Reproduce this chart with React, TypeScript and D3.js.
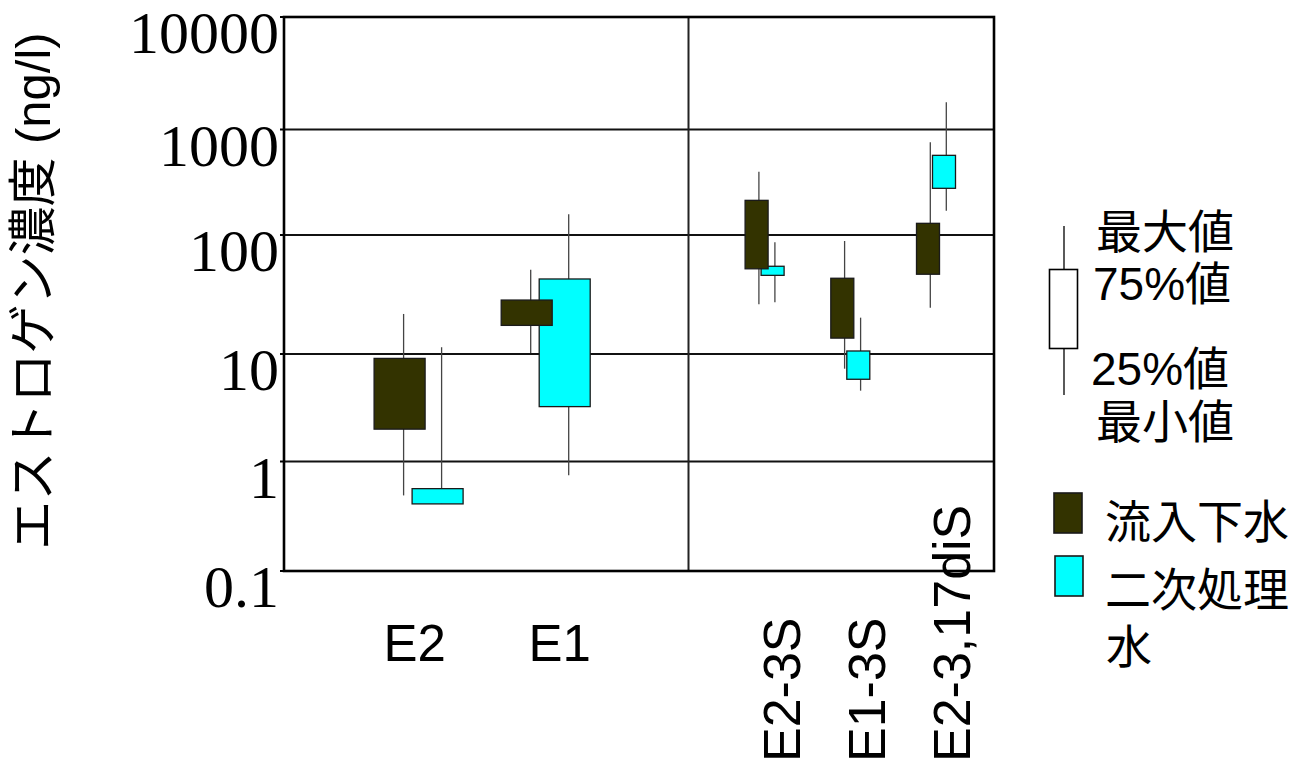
import React from "react";
import * as d3 from "d3";

// ---- data ----
const categories = ["E2", "E1", "E2-3S", "E1-3S", "E2-3,17diS"];
const leftPanel = ["E2", "E1"];
const rightPanel = ["E2-3S", "E1-3S", "E2-3,17diS"];

const influentMin = [0.49, 10.2, 26.2, 7.3, 24.5];
const influentQ1 = [2.0, 17.4, 52, 13.6, 46.8];
const influentQ3 = [9.1, 28.4, 213, 43.3, 129];
const influentMax = [21.7, 51, 398, 89, 757];

const secondaryMin = [0.41, 0.75, 27.2, 4.56, 170];
const secondaryQ1 = [0.41, 3.24, 45.8, 5.82, 277];
const secondaryQ3 = [0.565, 42.7, 54.6, 10.6, 569];
const secondaryMax = [11.4, 157, 86.9, 20.2, 1745];

const yTicks = [0.1, 1, 10, 100, 1000, 10000];
const yTickLabels = ["0.1", "1", "10", "100", "1000", "10000"];
const yTitle = "エストロゲン濃度 (ng/l)";
const seriesNames = ["流入下水", "二次処理水"];
const legendStats = ["最大値", "75%値", "25%値", "最小値"];

// ---- layout ----
const W = 1296;
const H = 762;
const plot = { left: 284, right: 994, top: 17, bottom: 571 };
const dividerX = 688.5;
const INF_COLOR = "#333300";
const SEC_COLOR = "#00ffff";
const SANS = "'Liberation Sans', Arial, 'Noto Sans CJK JP', sans-serif";
const SERIF = "'Liberation Serif', 'Times New Roman', serif";

export default function App() {
  const y = d3
    .scaleLog()
    .domain(yTicks)
    .range([plot.bottom, 461.5, 354, 235, 129.5, plot.top]);

  const xLeft = d3.scalePoint<string>().domain(leftPanel).range([418.6, 545.7]);
  const xRight = d3.scalePoint<string>().domain(rightPanel).range([764.6, 936]);
  const labelLeft = d3.scalePoint<string>().domain(leftPanel).range([414.6, 559.6]);
  const labelRight = d3.scalePoint<string>().domain(rightPanel).range([800, 970]);

  const geom = (c: string) => {
    const isLeft = leftPanel.includes(c);
    const cx = isLeft ? (xLeft(c) as number) : (xRight(c) as number);
    const w = isLeft ? 51 : 23;
    const off = isLeft ? 19 : 8;
    const wOff = isLeft ? 4 : 2.3;
    return { cx, w, off, wOff };
  };

  const series = [
    { key: "sec", min: secondaryMin, q1: secondaryQ1, q3: secondaryQ3, max: secondaryMax, color: SEC_COLOR, sign: 1 },
    { key: "inf", min: influentMin, q1: influentQ1, q3: influentQ3, max: influentMax, color: INF_COLOR, sign: -1 },
  ];

  return (
    <svg
      width={W}
      height={H}
      style={{ position: "absolute", left: 0, top: 0, background: "#fff" }}
      xmlns="http://www.w3.org/2000/svg"
    >
      <rect x={0} y={0} width={W} height={H} fill="#fff" />

      {/* gridlines */}
      {yTicks.slice(1, -1).map((t) => (
        <line key={"g" + t} x1={plot.left} x2={plot.right} y1={y(t)} y2={y(t)} stroke="#111" strokeWidth={2} />
      ))}

      {/* panel divider */}
      <line x1={dividerX} x2={dividerX} y1={plot.top} y2={plot.bottom} stroke="#222" strokeWidth={2} />

      {/* boxes */}
      {series.map((s) =>
        categories.map((c, i) => {
          const g = geom(c);
          const bx = g.cx + s.sign * g.off - g.w / 2;
          const wx = g.cx + s.sign * g.off + g.wOff;
          return (
            <g key={s.key + c}>
              <line x1={wx} x2={wx} y1={y(s.max[i])} y2={y(s.min[i])} stroke="#444" strokeWidth={1.3} />
              <rect
                x={bx}
                y={y(s.q3[i])}
                width={g.w}
                height={y(s.q1[i]) - y(s.q3[i])}
                fill={s.color}
                stroke="#1a1a1a"
                strokeWidth={1.3}
              />
            </g>
          );
        })
      )}

      {/* frame */}
      <rect
        x={plot.left}
        y={plot.top}
        width={plot.right - plot.left}
        height={plot.bottom - plot.top}
        fill="none"
        stroke="#000"
        strokeWidth={2.6}
      />

      {/* y ticks & labels */}
      {yTicks.map((t, i) => (
        <g key={"t" + t}>
          <line x1={plot.left - 4} x2={plot.left} y1={y(t)} y2={y(t)} stroke="#000" strokeWidth={2} />
          <text x={279} y={y(t) + 36} textAnchor="end" fontFamily={SERIF} fontSize={60} fill="#000">
            {yTickLabels[i]}
          </text>
        </g>
      ))}

      {/* y title */}
      <text
        transform={`translate(50, 291) rotate(-90)`}
        textAnchor="middle"
        fontFamily={SANS}
        fontSize={49}
        fill="#000"
      >
        {yTitle}
      </text>

      {/* x labels */}
      {leftPanel.map((c) => (
        <text key={"xl" + c} x={labelLeft(c)} y={661} textAnchor="middle" fontFamily={SANS} fontSize={51} fill="#000">
          {c}
        </text>
      ))}
      {rightPanel.map((c) => (
        <text
          key={"xr" + c}
          transform={`translate(${labelRight(c)}, 762) rotate(-90)`}
          textAnchor="start"
          fontFamily={SANS}
          fontSize={52}
          fill="#000"
        >
          {c}
        </text>
      ))}

      {/* legend: box key */}
      <line x1={1064} x2={1064} y1={226} y2={395} stroke="#000" strokeWidth={1.3} />
      <rect x={1049.5} y={269.5} width={28} height={79} fill="#fff" stroke="#000" strokeWidth={1.6} />
      <text x={1096} y={248} fontFamily={SANS} fontSize={46} fill="#000">{legendStats[0]}</text>
      <text x={1093} y={300} fontFamily={SANS} fontSize={46} fill="#000">{legendStats[1]}</text>
      <text x={1091} y={385} fontFamily={SANS} fontSize={46} fill="#000">{legendStats[2]}</text>
      <text x={1096} y={438} fontFamily={SANS} fontSize={46} fill="#000">{legendStats[3]}</text>

      {/* legend: series */}
      <rect x={1054} y={493} width={28} height={40} fill={INF_COLOR} stroke="#1a1a1a" strokeWidth={1.6} />
      <rect x={1055} y={556} width={28} height={40} fill={SEC_COLOR} stroke="#1a1a1a" strokeWidth={1.6} />
      <text x={1105} y={538} fontFamily={SANS} fontSize={46} fill="#000">{seriesNames[0]}</text>
      <text x={1105} y={606} fontFamily={SANS} fontSize={46} fill="#000">{seriesNames[1].slice(0, 4)}</text>
      <text x={1106} y={663} fontFamily={SANS} fontSize={46} fill="#000">{seriesNames[1].slice(4)}</text>
    </svg>
  );
}
